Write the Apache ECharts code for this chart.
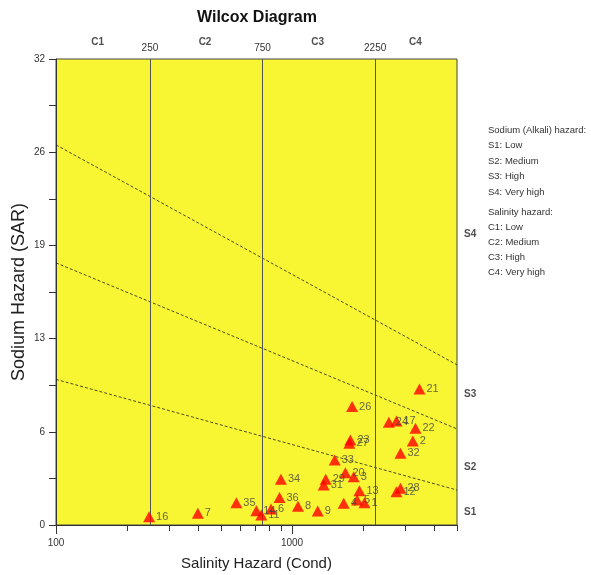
<!DOCTYPE html>
<html><head><meta charset="utf-8">
<script src="https://cdn.jsdelivr.net/npm/echarts@6/dist/echarts.min.js"></script>
<style>html,body{margin:0;padding:0;background:#fff}#c{width:591px;height:575px}</style>
</head><body><div id="c"></div>
<script>
// ---- data ----
const sampleIds   = ['16','7','35','14','11','6','36','34','8','9','29','31','33','20','3','4','13','5','1','21','26','24','17','22','2','32','23','27','28','12'];
const salinityEC  = [248, 399, 581, 706, 741, 815, 885, 897, 1060, 1285, 1389, 1362, 1517, 1683, 1825, 1656, 1930, 1887, 2027, 3467, 1797, 2572, 2770, 3334, 3249, 2880, 1767, 1750, 2880, 2770];
const sodiumSAR   = [0.57, 0.80, 1.53, 0.98, 0.69, 1.10, 1.88, 3.14, 1.28, 0.96, 3.14, 2.75, 4.46, 3.59, 3.32, 1.49, 2.36, 1.72, 1.53, 9.34, 8.13, 7.05, 7.14, 6.64, 5.77, 4.92, 5.84, 5.61, 2.52, 2.29];

const boundaryEC  = [100, 5000];
const lineS3S4    = [26.1, 11.0];
const lineS2S3    = [18.0, 6.6];
const lineS1S2    = [10.0, 2.4];

const classLimitsEC  = [250, 750, 2250];
const classNames     = ['C1', 'C2', 'C3', 'C4'];
const classLabelEC   = [150, 428, 1284, 3334];
const sodiumClassNames = ['S1', 'S2', 'S3', 'S4'];
const sodiumLabelSAR   = [0.9, 4.0, 9.0, 20.0];

const xMajorTicks = [100, 1000];
const xMinorTicks = [200, 300, 400, 500, 600, 700, 800, 900, 2000, 3000, 4000, 5000];
const xTickLabels = ['100', '1000'];

const legendSodium   = ['Sodium (Alkali) hazard:', 'S1: Low', 'S2: Medium', 'S3: High', 'S4: Very high'];
const legendSalinity = ['Salinity hazard:', 'C1: Low', 'C2: Medium', 'C3: High', 'C4: Very high'];

// ---- chart ----
const FONT = 'Liberation Sans, Arial, sans-serif';
const chart = echarts.init(document.getElementById('c'));

const boundarySeries = [lineS3S4, lineS2S3, lineS1S2].map(arr => ({
  type: 'line', silent: true, symbol: 'none', animation: false,
  data: boundaryEC.map((x, i) => [x, arr[i]]),
  lineStyle: { color: '#222', width: 0.8, type: [3, 2] },
  z: 3
}));

const legendGraphics = [];
legendSodium.forEach((t, i) => legendGraphics.push({
  type: 'text', x: 488, y: 130 + i * 15.5,
  style: { text: t, fill: '#333', font: '9.5px ' + FONT, verticalAlign: 'middle' }
}));
legendSalinity.forEach((t, i) => legendGraphics.push({
  type: 'text', x: 488, y: 212 + i * 15,
  style: { text: t, fill: '#333', font: '9.5px ' + FONT, verticalAlign: 'middle' }
}));

const option = {
  animation: false,
  title: {
    text: 'Wilcox Diagram', left: 197, top: 10, padding: 0,
    textStyle: { fontFamily: FONT, fontSize: 16, fontWeight: 'bold', color: '#111' }
  },
  grid: {
    left: 56, right: 134, top: 59, bottom: 50, show: true, outerBoundsMode: 'none', containLabel: false,
    backgroundColor: '#f8f532', borderColor: '#444', borderWidth: 1
  },
  xAxis: {
    type: 'log', logBase: 10, min: 100, max: 5000,
    axisLine: { show: true, lineStyle: { color: '#333' } },
    axisTick: { show: false }, minorTick: { show: false }, splitLine: { show: false },
    axisLabel: {
      fontFamily: FONT, fontSize: 10, color: '#333', margin: 13,
      formatter: v => { const s = String(Math.round(v)); return xTickLabels.includes(s) ? s : ''; }
    },
    name: 'Salinity Hazard (Cond)', nameLocation: 'middle', nameGap: 31, nameMoveOverlap: false,
    nameTextStyle: { fontFamily: FONT, fontSize: 15, color: '#222' }
  },
  yAxis: {
    type: 'value', min: 0, max: 32, interval: 6.4,
    axisLine: { show: true, lineStyle: { color: '#333' } },
    axisTick: { show: true, length: 7, lineStyle: { color: '#333' } },
    minorTick: { show: true, splitNumber: 2, length: 7, lineStyle: { color: '#333' } },
    splitLine: { show: false },
    axisLabel: { fontFamily: FONT, fontSize: 10, color: '#333', margin: 11, formatter: v => String(Math.round(v)) },
    name: 'Sodium Hazard (SAR)', nameLocation: 'middle', nameGap: 28, nameMoveOverlap: false,
    nameTextStyle: { fontFamily: FONT, fontSize: 18, color: '#222' }
  },
  graphic: legendGraphics,
  series: [
    ...boundarySeries,
    {
      type: 'line', silent: true, data: [],
      markLine: {
        silent: true, symbol: 'none', animation: false,
        lineStyle: { color: '#555', width: 1, type: 'solid' },
        label: { show: true, position: 'end', formatter: '{c}', fontFamily: FONT, fontSize: 10, color: '#333', distance: 6 },
        data: classLimitsEC.map(v => ({ xAxis: v }))
      },
      z: 2
    },
    {
      type: 'scatter', silent: true, clip: false, symbolSize: 0,
      data: classLabelEC.map((x, i) => [x, 32, classNames[i]]),
      label: { show: true, position: 'top', distance: 12, formatter: p => p.data[2], fontFamily: FONT, fontSize: 10, fontWeight: 'bold', color: '#222' }
    },
    {
      type: 'scatter', silent: true, clip: false, symbolSize: 0,
      data: sodiumLabelSAR.map((y, i) => [5000, y, sodiumClassNames[i]]),
      label: { show: true, position: 'right', distance: 7, formatter: p => p.data[2], fontFamily: FONT, fontSize: 10, fontWeight: 'bold', color: '#222' }
    },
    {
      type: 'scatter', symbol: 'triangle', symbolSize: [12, 11], clip: false,
      itemStyle: { color: '#ff0000' },
      data: sampleIds.map((id, i) => [salinityEC[i], sodiumSAR[i], id]),
      label: { show: true, position: 'right', distance: 1, formatter: p => p.data[2], fontFamily: FONT, fontSize: 11, color: '#444' },
      z: 5
    },
    {
      type: 'custom', silent: true, clip: false,
      data: [...xMajorTicks, ...xMinorTicks].map(v => [v, 0]),
      renderItem: (params, api) => {
        const v = api.value(0);
        const p = api.coord([v, 0]);
        const len = xMajorTicks.includes(v) ? 9 : 6;
        const x = Math.round(p[0]) + 0.5;
        return { type: 'line', shape: { x1: x, y1: p[1], x2: x, y2: p[1] + len }, style: { stroke: '#333', lineWidth: 1 } };
      },
      z: 4
    }
  ]
};
chart.setOption(option);
</script>
</body></html>
